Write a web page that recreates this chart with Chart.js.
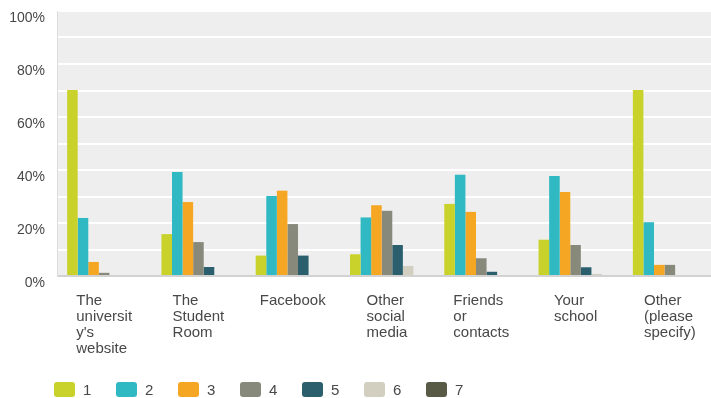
<!DOCTYPE html>
<html>
<head>
<meta charset="utf-8">
<script src="https://cdn.jsdelivr.net/npm/chart.js@4/dist/chart.umd.min.js"></script>
<style>
  html, body { margin: 0; padding: 0; background: #fff; overflow: hidden; }
  .wrap { position: relative; width: 718px; height: 398px; }
  #legend { position: absolute; left: 54px; top: 381px; display: flex; font: 15px "Liberation Sans", Arial, sans-serif; color: #484848; }
  #legend .item { display: flex; align-items: center; width: 62px; }
  #legend .box { width: 21px; height: 15px; border-radius: 3px; margin-right: 8px; }
</style>
</head>
<body>
<div class="wrap">
  <canvas id="chart" width="718" height="398"></canvas>
  <div id="legend"></div>
</div>
<script>
// Where did you hear about us - share of answers per rank
const categories = [
  ["The", "universit", "y's", "website"],
  ["The", "Student", "Room"],
  ["Facebook"],
  ["Other", "social", "media"],
  ["Friends", "or", "contacts"],
  ["Your", "school"],
  ["Other", "(please", "specify)"]
];
const seriesNames = ["1", "2", "3", "4", "5", "6", "7"];
const rank1 = [70.2, 15.8, 7.7, 8.2, 27.2, 13.7, 70.2];
const rank2 = [21.9, 39.2, 30.2, 22.1, 38.2, 37.7, 20.3];
const rank3 = [5.3, 27.9, 32.2, 26.7, 24.2, 31.7, 4.2];
const rank4 = [1.2, 12.8, 19.6, 24.6, 6.7, 11.7, 4.2];
const rank5 = [0, 3.4, 7.7, 11.7, 1.6, 3.3, 0];
const rank6 = [0, 0, 0, 3.8, 0, 0.8, 0];
const rank7 = [0, 0, 0, 0, 0, 0, 0];
const yTicks = [0, 20, 40, 60, 80, 100];

const colors = ["#c9d22a", "#30b9c2", "#f5a623", "#878a7b", "#2b5f6e", "#d3cfc0", "#585a45"];
const allSeries = [rank1, rank2, rank3, rank4, rank5, rank6, rank7];

const labelFont = '15px "Liberation Sans", Arial, sans-serif';

// grey panel behind the bars
const plotBackground = {
  id: "plotBackground",
  beforeDraw(chart) {
    const { ctx, chartArea } = chart;
    ctx.save();
    ctx.fillStyle = "#eeeeee";
    ctx.fillRect(chartArea.left, chartArea.top, chartArea.right - chartArea.left, chartArea.bottom - chartArea.top);
    ctx.restore();
  }
};

// category names: left aligned lines, block centred under each group
const categoryLabels = {
  id: "categoryLabels",
  afterDraw(chart) {
    const { ctx } = chart;
    const xScale = chart.scales.x;
    ctx.save();
    ctx.font = labelFont;
    ctx.fillStyle = "#484848";
    ctx.textAlign = "left";
    ctx.textBaseline = "alphabetic";
    categories.forEach((lines, i) => {
      const center = xScale.getPixelForValue(i);
      const w = Math.max(...lines.map(l => ctx.measureText(l).width));
      lines.forEach((line, j) => {
        ctx.fillText(line, center - w / 2, xScale.top + 29 + j * 16);
      });
    });
    ctx.restore();
  }
};

const chart = new Chart(document.getElementById("chart"), {
  type: "bar",
  data: {
    labels: categories,
    datasets: allSeries.map((data, i) => ({
      label: seriesNames[i],
      data: data,
      backgroundColor: colors[i],
      borderWidth: 0,
      categoryPercentage: 0.785,
      barPercentage: 1
    }))
  },
  options: {
    responsive: false,
    animation: false,
    layout: { padding: { top: 11, right: 1, left: 0, bottom: 0 } },
    plugins: {
      legend: { display: false },
      tooltip: { enabled: false }
    },
    scales: {
      x: {
        ticks: { display: false },
        grid: { display: false },
        border: { display: false },
        afterFit(scale) { scale.height = 122; }
      },
      y: {
        min: 0,
        max: 100,
        afterFit(scale) {
          scale.width = 57;
          scale.paddingTop = 0;
          scale.paddingBottom = 0;
        },
        ticks: {
          stepSize: 10,
          autoSkip: false,
          padding: 12,
          labelOffset: 7,
          color: "#484848",
          font: { family: '"Liberation Sans", Arial, sans-serif', size: 14 },
          callback: v => yTicks.includes(v) ? v + "%" : ""
        },
        grid: {
          drawTicks: false,
          lineWidth: 2,
          color: c => c.tick && c.tick.value === 0 ? "#d2d2d2" : "#ffffff"
        },
        border: { display: true, color: "#dedede", width: 1 }
      }
    }
  },
  plugins: [plotBackground, categoryLabels]
});

// legend row under the chart
const legendEl = document.getElementById("legend");
chart.data.datasets.forEach(ds => {
  const item = document.createElement("div");
  item.className = "item";
  item.innerHTML = `<span class="box" style="background:${ds.backgroundColor}"></span><span>${ds.label}</span>`;
  legendEl.appendChild(item);
});
</script>
</body>
</html>
